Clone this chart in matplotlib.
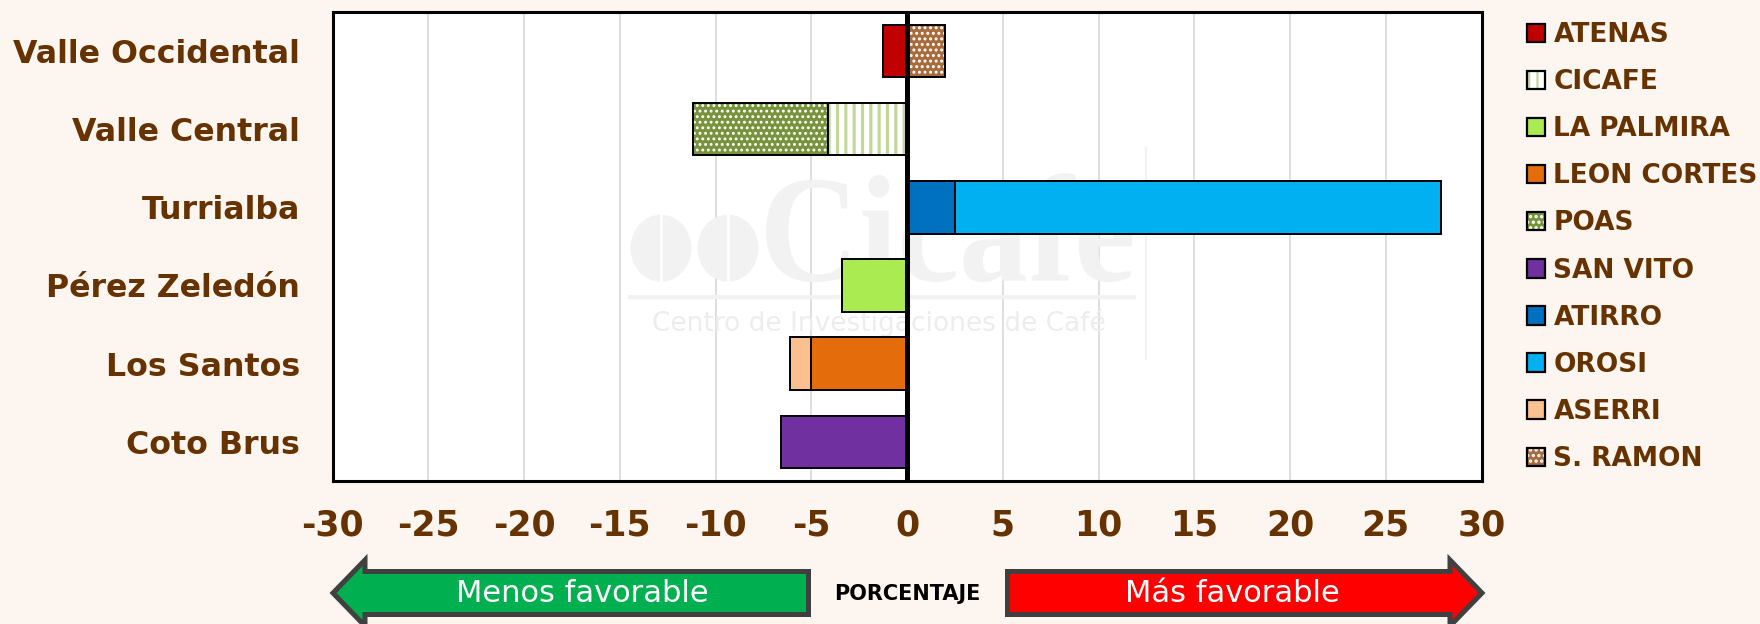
import matplotlib
matplotlib.use("Agg")
import matplotlib.pyplot as plt
import numpy as np
from matplotlib.patches import Patch, Polygon, Ellipse, PathPatch
from matplotlib.lines import Line2D
from matplotlib.textpath import TextPath
from matplotlib.font_manager import FontProperties
from matplotlib.transforms import Affine2D

plt.rcParams['axes.unicode_minus'] = False
plt.rcParams['font.family'] = ['DejaVu Sans']
plt.rcParams['hatch.linewidth'] = 1.6

BG = '#fdf5ef'
BROWN = '#663300'

# ---------------- data ----------------
categories = ["Valle Occidental", "Valle Central", "Turrialba",
              "Pérez Zeledón", "Los Santos", "Coto Brus"]
series_names = ["ATENAS", "CICAFE", "LA PALMIRA", "LEON CORTES", "POAS",
                "SAN VITO", "ATIRRO", "OROSI", "ASERRI", "S. RAMON"]
atenas      = [-1.25, 0, 0, 0, 0, 0]
cicafe      = [0, -4.1, 0, 0, 0, 0]
la_palmira  = [0, 0, 0, -3.4, 0, 0]
leon_cortes = [0, 0, 0, 0, -5.0, 0]
poas        = [0, -7.1, 0, 0, 0, 0]
san_vito    = [0, 0, 0, 0, 0, -6.6]
atirro      = [0, 0, 2.5, 0, 0, 0]
orosi       = [0, 0, 25.4, 0, 0, 0]
aserri      = [0, 0, 0, 0, -1.1, 0]
s_ramon     = [2.0, 0, 0, 0, 0, 0]
series_values = [atenas, cicafe, la_palmira, leon_cortes, poas,
                 san_vito, atirro, orosi, aserri, s_ramon]
x_ticks = list(range(-30, 31, 5))

# ---------------- styles ----------------
faces = ['#c00000', '#ffffff', '#aaeb52', '#e46c0a', '#77933c',
         '#7030a0', '#0070c0', '#00b0f0', '#fac090', '#a86b3c']
hatches = [None, '||', None, None, '...', None, None, None, None, '...']
hatch_cols = [None, '#c4d79b', None, None, 'white', None, None, None, None, 'white']
hatch_lw = [None, 2.3, None, None, 1.3, None, None, None, None, 1.4]

fig = plt.figure(figsize=(17.6, 6.24), dpi=100, facecolor=BG)
ax = fig.add_axes([332.5 / 1760, 1 - 480.7 / 624, 1149 / 1760, 468.5 / 624])
ax.set_facecolor('white')


def set_hlw(artist, lw):
    if lw is not None and hasattr(artist, 'set_hatch_linewidth'):
        try:
            artist.set_hatch_linewidth(lw)
        except Exception:
            pass


n = len(categories)
y = np.arange(n)
neg_left = np.zeros(n)
pos_left = np.zeros(n)
handles = []
H = 0.67
for vals, fc, h, hc, hl in zip(series_values, faces, hatches, hatch_cols, hatch_lw):
    v = np.array(vals, dtype=float)
    left = np.where(v < 0, neg_left, pos_left)
    m = v != 0
    if h:
        bars = ax.barh(y[m], v[m], left=left[m], height=H, color=fc,
                       edgecolor=hc, hatch=h, linewidth=0, zorder=2)
        for b in bars:
            set_hlw(b, hl)
        ax.barh(y[m], v[m], left=left[m], height=H, fill=False,
                edgecolor='black', linewidth=1.4, zorder=3)
        hp = Patch(facecolor=fc, edgecolor=hc, hatch=h, linewidth=0)
        set_hlw(hp, hl)
        ho = Patch(fill=False, edgecolor='black', linewidth=1.6)
        handles.append((hp, ho))
    else:
        ax.barh(y[m], v[m], left=left[m], height=H, color=fc,
                edgecolor='black', linewidth=1.4, zorder=2)
        handles.append(Patch(facecolor=fc, edgecolor='black', linewidth=1.6))
    neg_left += np.minimum(v, 0)
    pos_left += np.maximum(v, 0)

ax.axvline(0, color='black', linewidth=3.6, zorder=5)

ax.set_xlim(-30, 30)
ax.set_ylim(n - 0.5, -0.5)
ax.set_xticks(x_ticks)
ax.set_xticklabels([str(t) for t in x_ticks])
ax.set_yticks(y)
ax.set_yticklabels(categories)
ax.tick_params(axis='both', length=0, labelcolor=BROWN)
ax.tick_params(axis='x', pad=20, labelsize=25)
ax.tick_params(axis='y', pad=23.5, labelsize=22.8)
for lab in ax.get_xticklabels() + ax.get_yticklabels():
    lab.set_fontweight('bold')
ax.xaxis.grid(True, color='#d9d9d9', linewidth=1.2)
ax.set_axisbelow(True)
for s in ax.spines.values():
    s.set_linewidth(2.2)
    s.set_color('black')


# ---------------- watermark (decorative, axes fraction) ----------------
def af(px, py):
    return ((px - 332.5) / 1149, 1 - (py - 12) / 468.5)

WM = '#f2f2f2'
for cx in (661, 728):
    e = Ellipse(af(cx, 248), 61 / 1149, 67 / 468.5, transform=ax.transAxes,
                facecolor=WM, edgecolor='none', zorder=0.8)
    ax.add_patch(e)
    ax.add_line(Line2D([af(cx, 215)[0]] * 2, [af(cx, 215)[1], af(cx, 282)[1]],
                       transform=ax.transAxes, color='white', lw=2, zorder=0.85))

tp = TextPath((0, 0), "Cicafe", size=100,
              prop=FontProperties(family=['Liberation Serif', 'DejaVu Serif'], weight='bold'))
ext = tp.get_extents()
x0, y0 = af(766, 282)
x1, y1 = af(1132, 173)
tr = (Affine2D().translate(-ext.x0, -ext.y0)
      .scale((x1 - x0) / ext.width, (y1 - y0) / ext.height)
      .translate(x0, y0)) + ax.transAxes
ax.add_patch(PathPatch(tp, transform=tr, facecolor=WM, edgecolor='none', zorder=0.8))

ax.add_line(Line2D([af(630, 297)[0], af(1134, 297)[0]], [af(630, 297)[1]] * 2,
                   transform=ax.transAxes, color=WM, lw=3, zorder=0.8))
ax.add_line(Line2D([af(1146, 148)[0]] * 2, [af(1146, 148)[1], af(1146, 359)[1]],
                   transform=ax.transAxes, color=WM, lw=1.5, zorder=0.8))
ax.text(*af(879, 323), "Centro de Investigaciones de Café", transform=ax.transAxes,
        ha='center', va='center', fontsize=19, color='#ededed', zorder=0.8)

# ---------------- legend ----------------
fig.legend(handles, series_names, loc='upper left',
           bbox_to_anchor=(1527 / 1760, 1 - 22 / 624), frameon=False,
           prop={'size': 19, 'weight': 'bold'}, labelcolor=BROWN,
           handlelength=0.7, handleheight=0.7, handletextpad=0.3,
           labelspacing=0.8, borderpad=0, borderaxespad=0)

# ---------------- bottom arrows ----------------
oax = fig.add_axes([0, 0, 1, 1])
oax.set_xlim(0, 1760)
oax.set_ylim(624, 0)
oax.axis('off')
oax.patch.set_alpha(0)
green = Polygon([(333, 593), (365, 560), (365, 571.5), (808.5, 571.5),
                 (808.5, 614.5), (365, 614.5), (365, 626)], closed=True,
                facecolor='#00b050', edgecolor='#404040', linewidth=3.6,
                joinstyle='miter')
red = Polygon([(1482, 593), (1450, 560), (1450, 571.5), (1007.5, 571.5),
               (1007.5, 614.5), (1450, 614.5), (1450, 626)], closed=True,
              facecolor='#ff0000', edgecolor='#404040', linewidth=3.6,
              joinstyle='miter')
oax.add_patch(green)
oax.add_patch(red)
oax.text(582, 594, "Menos favorable", ha='center', va='center', color='white', fontsize=22)
oax.text(1232, 594, "Más favorable", ha='center', va='center', color='white', fontsize=22)
oax.text(907, 594, "PORCENTAJE", ha='center', va='center', color='black',
         fontsize=15, fontweight='bold')

fig.savefig("out.png", dpi=100, facecolor=BG)
